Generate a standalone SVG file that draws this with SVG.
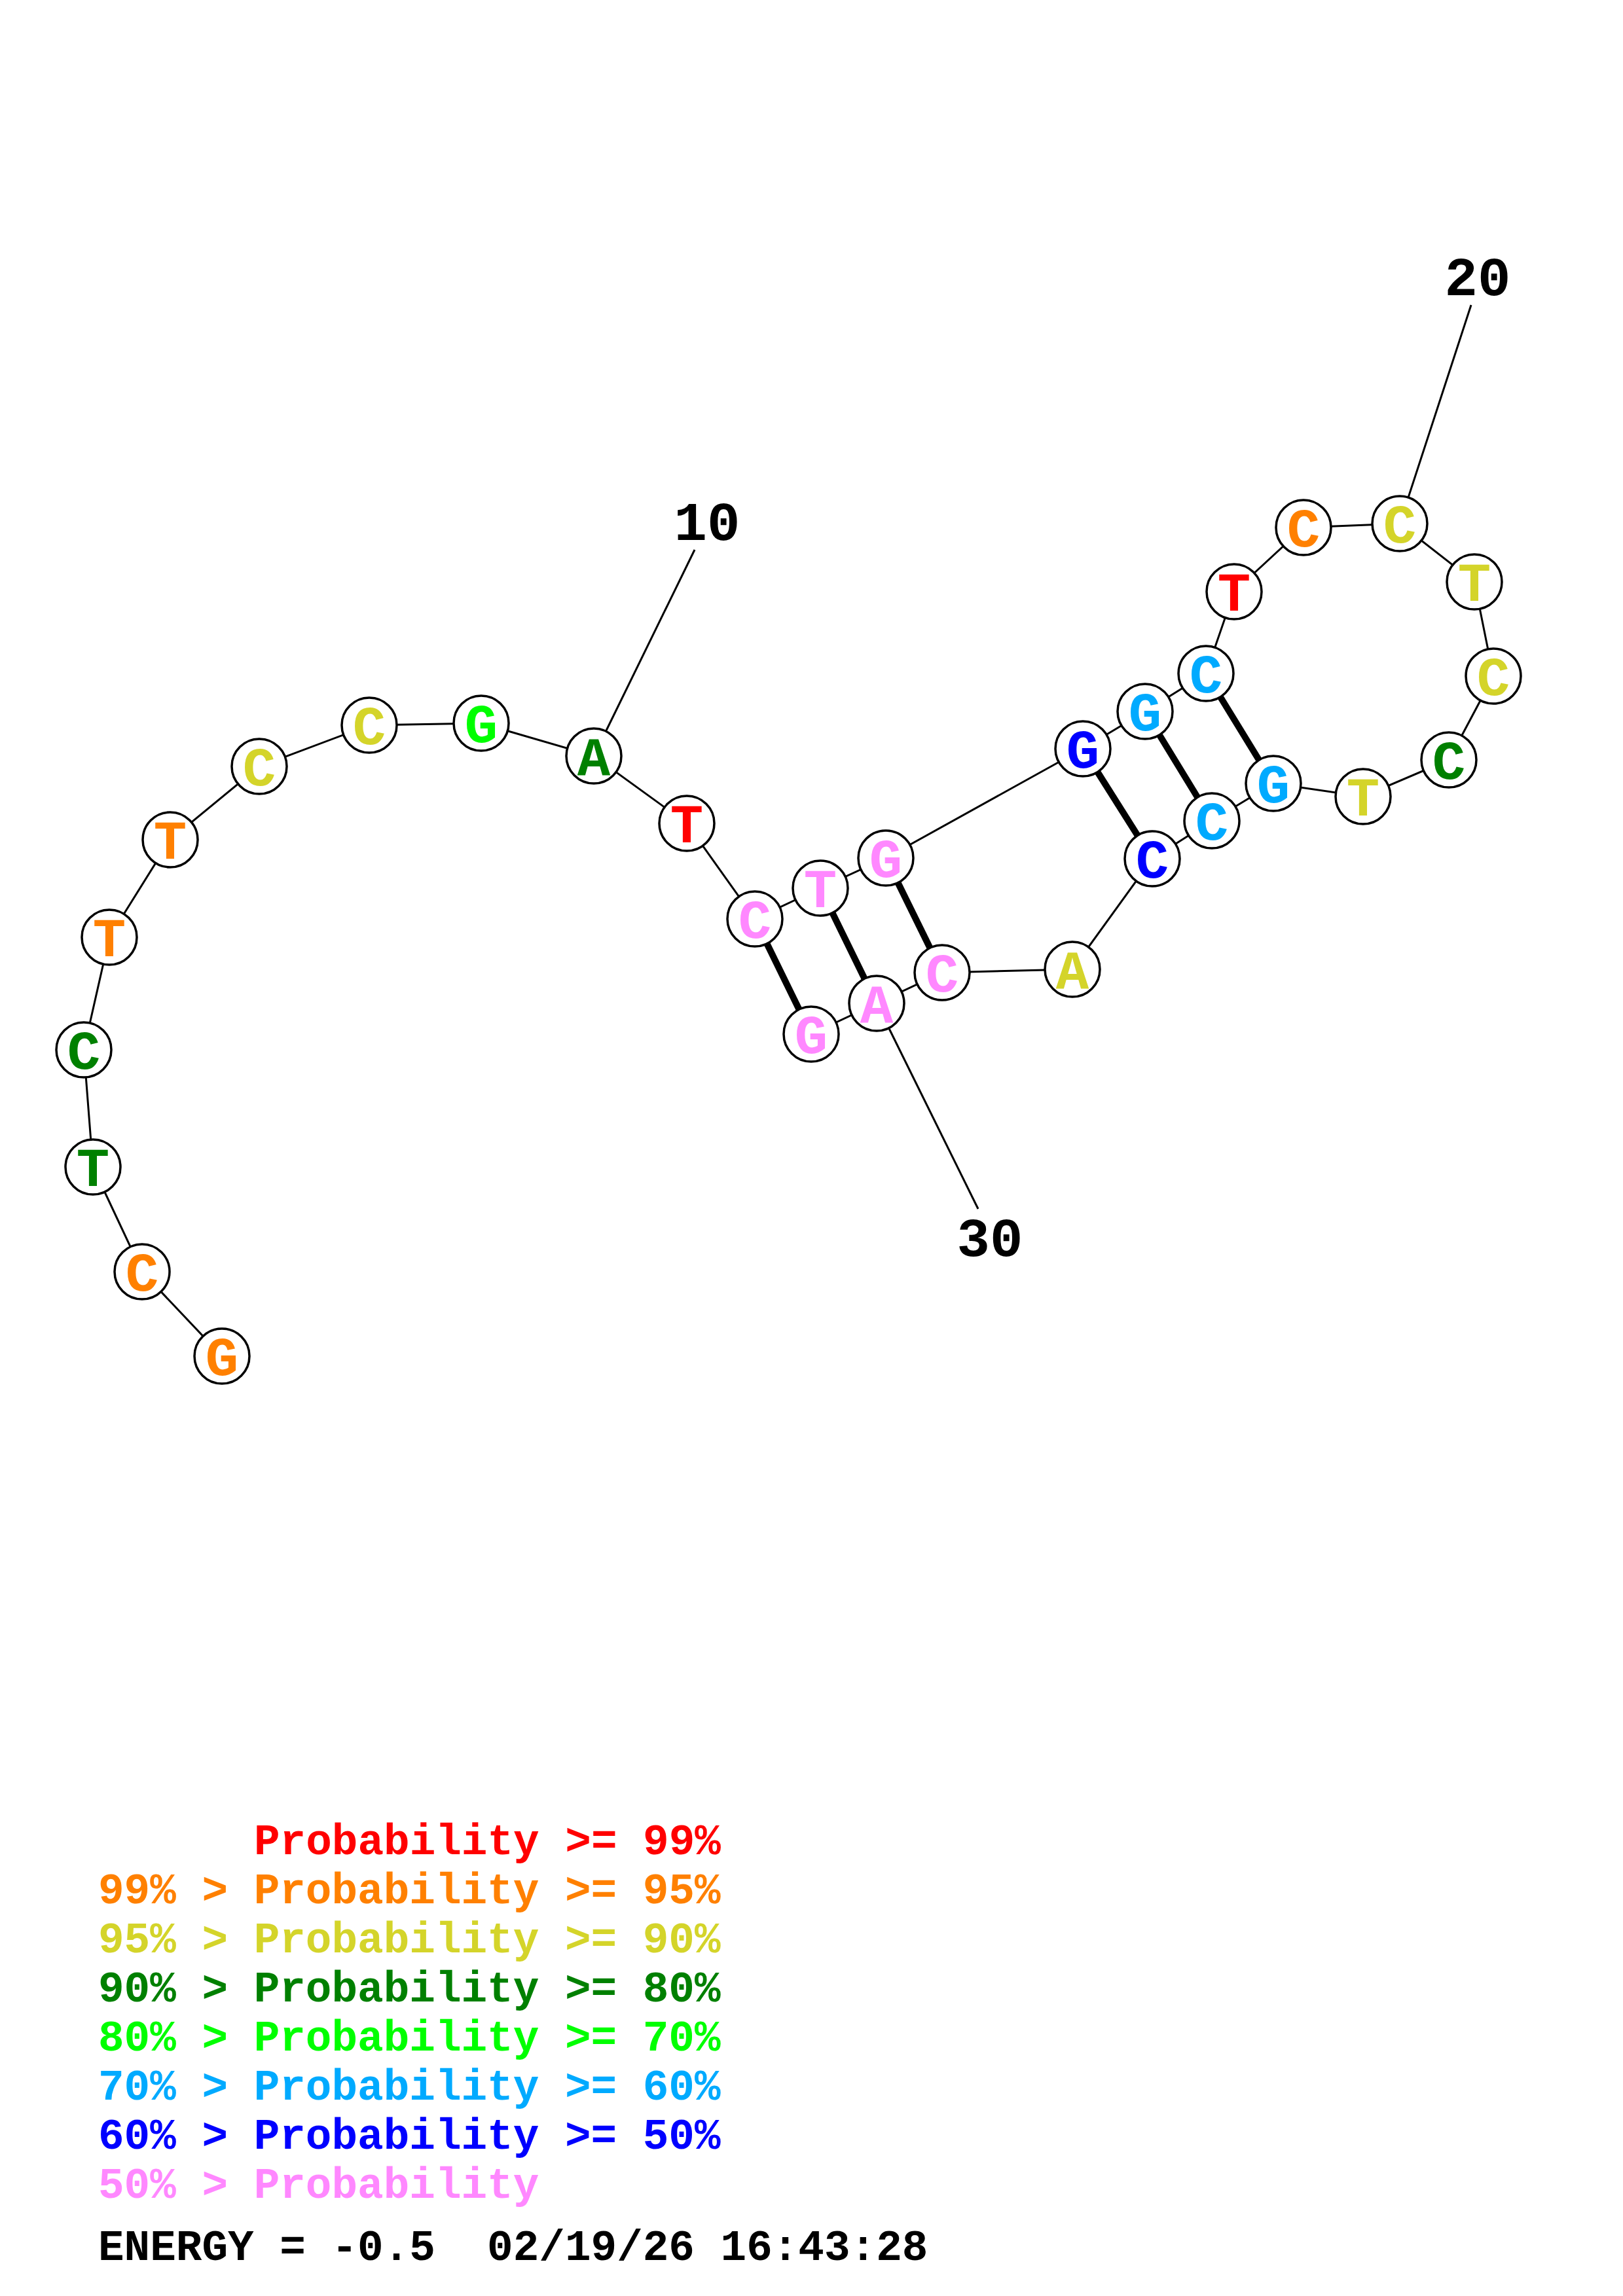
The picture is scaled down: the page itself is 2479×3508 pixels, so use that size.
<svg xmlns="http://www.w3.org/2000/svg" width="2479" height="3508" viewBox="0 0 2479 3508">
<style>
.bb{stroke:#000;stroke-width:3;fill:none}
.bp{stroke:#000;stroke-width:10;fill:none}
.nc{fill:#fff;stroke:#000;stroke-width:3.5}
.nt{font-family:"Liberation Mono","Courier New",monospace;font-weight:bold;font-size:84px;text-anchor:middle}
.num{font-family:"Liberation Mono","Courier New",monospace;font-weight:bold;font-size:84px;text-anchor:middle;fill:#000}
.lg{font-family:"Liberation Mono","Courier New",monospace;font-weight:bold;font-size:66px}
.r{fill:#FF0000}.o{fill:#FF8000}.y{fill:#D4D42A}.dg{fill:#008000}.g{fill:#00FF00}.lb{fill:#00AAFF}.b{fill:#0000FF}.p{fill:#FF88FF}.k{fill:#000}
</style>
<rect width="2479" height="3508" fill="#fff"/>
<g id="connectors">
<polyline class="bb" points="339,2072 217,1943 142,1783 128,1604 167,1432 260,1283 396,1171 564,1108 735,1105 907,1155 1049,1258 1153,1404 1253,1357 1353,1311 1654,1144 1749,1087 1842,1029 1885,904 1991,806 2138,800 2252,889 2281,1033 2213,1161 2082,1217 1945,1197 1851,1254 1760,1312 1638,1481 1439,1486 1339,1533 1239,1580"/>
<line class="bp" x1="1153" y1="1404" x2="1239" y2="1580"/>
<line class="bp" x1="1253" y1="1357" x2="1339" y2="1533"/>
<line class="bp" x1="1353" y1="1311" x2="1439" y2="1486"/>
<line class="bp" x1="1654" y1="1144" x2="1760" y2="1312"/>
<line class="bp" x1="1749" y1="1087" x2="1851" y2="1254"/>
<line class="bp" x1="1842" y1="1029" x2="1945" y2="1197"/>
<line class="bb" x1="907" y1="1155" x2="1061" y2="840"/>
<line class="bb" x1="2138" y1="800" x2="2247" y2="466"/>
<line class="bb" x1="1339" y1="1533" x2="1494" y2="1847"/>
</g>
<g id="n1"><circle class="nc" cx="339" cy="2072" r="42"/><text class="nt o" x="339" y="2101">G</text></g>
<g id="n2"><circle class="nc" cx="217" cy="1943" r="42"/><text class="nt o" x="217" y="1972">C</text></g>
<g id="n3"><circle class="nc" cx="142" cy="1783" r="42"/><text class="nt dg" x="142" y="1812">T</text></g>
<g id="n4"><circle class="nc" cx="128" cy="1604" r="42"/><text class="nt dg" x="128" y="1633">C</text></g>
<g id="n5"><circle class="nc" cx="167" cy="1432" r="42"/><text class="nt o" x="167" y="1461">T</text></g>
<g id="n6"><circle class="nc" cx="260" cy="1283" r="42"/><text class="nt o" x="260" y="1312">T</text></g>
<g id="n7"><circle class="nc" cx="396" cy="1171" r="42"/><text class="nt y" x="396" y="1200">C</text></g>
<g id="n8"><circle class="nc" cx="564" cy="1108" r="42"/><text class="nt y" x="564" y="1137">C</text></g>
<g id="n9"><circle class="nc" cx="735" cy="1105" r="42"/><text class="nt g" x="735" y="1134">G</text></g>
<g id="n10"><circle class="nc" cx="907" cy="1155" r="42"/><text class="nt dg" x="907" y="1184">A</text></g>
<g id="n11"><circle class="nc" cx="1049" cy="1258" r="42"/><text class="nt r" x="1049" y="1287">T</text></g>
<g id="n12"><circle class="nc" cx="1153" cy="1404" r="42"/><text class="nt p" x="1153" y="1433">C</text></g>
<g id="n13"><circle class="nc" cx="1253" cy="1357" r="42"/><text class="nt p" x="1253" y="1386">T</text></g>
<g id="n14"><circle class="nc" cx="1353" cy="1311" r="42"/><text class="nt p" x="1353" y="1340">G</text></g>
<g id="n15"><circle class="nc" cx="1654" cy="1144" r="42"/><text class="nt b" x="1654" y="1173">G</text></g>
<g id="n16"><circle class="nc" cx="1749" cy="1087" r="42"/><text class="nt lb" x="1749" y="1116">G</text></g>
<g id="n17"><circle class="nc" cx="1842" cy="1029" r="42"/><text class="nt lb" x="1842" y="1058">C</text></g>
<g id="n18"><circle class="nc" cx="1885" cy="904" r="42"/><text class="nt r" x="1885" y="933">T</text></g>
<g id="n19"><circle class="nc" cx="1991" cy="806" r="42"/><text class="nt o" x="1991" y="835">C</text></g>
<g id="n20"><circle class="nc" cx="2138" cy="800" r="42"/><text class="nt y" x="2138" y="829">C</text></g>
<g id="n21"><circle class="nc" cx="2252" cy="889" r="42"/><text class="nt y" x="2252" y="918">T</text></g>
<g id="n22"><circle class="nc" cx="2281" cy="1033" r="42"/><text class="nt y" x="2281" y="1062">C</text></g>
<g id="n23"><circle class="nc" cx="2213" cy="1161" r="42"/><text class="nt dg" x="2213" y="1190">C</text></g>
<g id="n24"><circle class="nc" cx="2082" cy="1217" r="42"/><text class="nt y" x="2082" y="1246">T</text></g>
<g id="n25"><circle class="nc" cx="1945" cy="1197" r="42"/><text class="nt lb" x="1945" y="1226">G</text></g>
<g id="n26"><circle class="nc" cx="1851" cy="1254" r="42"/><text class="nt lb" x="1851" y="1283">C</text></g>
<g id="n27"><circle class="nc" cx="1760" cy="1312" r="42"/><text class="nt b" x="1760" y="1341">C</text></g>
<g id="n28"><circle class="nc" cx="1638" cy="1481" r="42"/><text class="nt y" x="1638" y="1510">A</text></g>
<g id="n29"><circle class="nc" cx="1439" cy="1486" r="42"/><text class="nt p" x="1439" y="1515">C</text></g>
<g id="n30"><circle class="nc" cx="1339" cy="1533" r="42"/><text class="nt p" x="1339" y="1562">A</text></g>
<g id="n31"><circle class="nc" cx="1239" cy="1580" r="42"/><text class="nt p" x="1239" y="1609">G</text></g>
<g id="labels">
<text class="num" x="1080" y="825">10</text>
<text class="num" x="2257" y="451">20</text>
<text class="num" x="1512" y="1919">30</text>
</g>
<g id="legend">
<text class="lg r" x="388" y="2833">Probability &gt;= 99%</text>
<text class="lg o" x="150" y="2908">99% &gt; Probability &gt;= 95%</text>
<text class="lg y" x="150" y="2983">95% &gt; Probability &gt;= 90%</text>
<text class="lg dg" x="150" y="3058">90% &gt; Probability &gt;= 80%</text>
<text class="lg g" x="150" y="3133">80% &gt; Probability &gt;= 70%</text>
<text class="lg lb" x="150" y="3208">70% &gt; Probability &gt;= 60%</text>
<text class="lg b" x="150" y="3283">60% &gt; Probability &gt;= 50%</text>
<text class="lg p" x="150" y="3358">50% &gt; Probability</text>
<text class="lg k" x="150" y="3453" xml:space="preserve">ENERGY = -0.5  02/19/26 16:43:28</text>
</g>
</svg>
